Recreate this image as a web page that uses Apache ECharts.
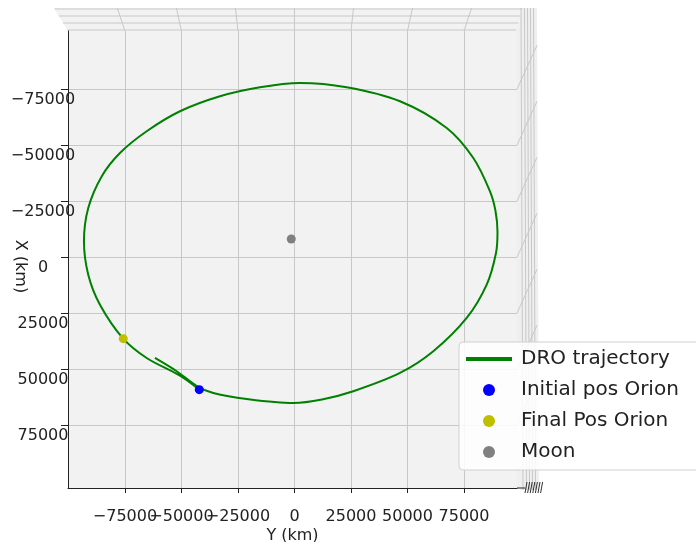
<!DOCTYPE html>
<html><head><meta charset="utf-8">
<script src="https://cdn.jsdelivr.net/npm/echarts@6/dist/echarts.min.js"></script>
<style>html,body{margin:0;padding:0;background:#fff}#c{width:696px;height:542px}</style>
</head><body><div id="c"></div>
<script>
// Tick labels (km)
const yTicksKm = [-75000, -50000, -25000, 0, 25000, 50000, 75000];
const xTicksKm = [-75000, -50000, -25000, 0, 25000, 50000, 75000];

// DRO trajectory: horizontal = Y (km), vertical = X (km)
const trajY = [-61730, -52120, -43000, -35930, -21150, -530, 12170, 26020, 46680, 61420, 76190, 85040, 89160, 89820, 88940, 86500, 79120, 67350, 46680, 23100, 2430, -15270, -32960, -50660, -65400, -77210, -85180, -91240, -93140, -91240, -86060, -75750, -65400, -50660, -42120];
const trajX = [44960, 50890, 57600, 60580, 63260, 65040, 63480, 59820, 51650, 41960, 27100, 12230, -1920, -11290, -20670, -29460, -44330, -57720, -69640, -75890, -77810, -75890, -71880, -65180, -56250, -46560, -36300, -22010, -7140, 7770, 21160, 36340, 44960, 52860, 59110];

const initialPos = [-42120, 59110];
const finalPos = [-75750, 36340];
const moonPos = [-1420, -8170];

const names = ['DRO trajectory', 'Initial pos Orion', 'Final Pos Orion', 'Moon'];

const FONT = 'DejaVu Sans';
const chart = echarts.init(document.getElementById('c'), null, {renderer: 'canvas'});

const trajData = trajY.map((y, i) => [y, trajX[i]]);
const fmt = v => String(v).replace('-', '\u2212');
// an empty leading label keeps ECharts' min-label overlap rule from hiding the overlapping labels
const EDGE = -100000;
const xLabelValues = [EDGE].concat(xTicksKm);

chart.setOption({
  animation: false,
  backgroundColor: '#ffffff',
  grid: {left: 68, right: 179, top: 31, bottom: 54, show: true, backgroundColor: '#f2f2f2', borderWidth: 0,
    outerBoundsMode: 'none', containLabel: false},
  xAxis: {
    type: 'value', min: -100200, max: 98450,
    name: 'Y (km)', nameLocation: 'middle', nameGap: 48, nameMoveOverlap: false,
    nameTextStyle: {fontFamily: FONT, fontSize: 16, color: '#222', verticalAlign: 'middle', align: 'center'},
    axisLine: {show: true, onZero: false, lineStyle: {color: '#222', width: 1}},
    axisTick: {show: true, length: 5, customValues: xTicksKm, lineStyle: {color: '#222'}},
    axisLabel: {customValues: xLabelValues, margin: 21, hideOverlap: false, showMinLabel: true, showMaxLabel: true,
      fontFamily: FONT, fontSize: 16, color: '#222', formatter: v => (v === EDGE ? '' : fmt(v))},
    splitLine: {show: true, lineStyle: {color: '#c8c8c8', width: 1}}
  },
  yAxis: {
    type: 'value', inverse: true, min: -101000, max: 103000,
    name: 'X (km)', nameLocation: 'middle', nameGap: 48, nameRotate: -90, nameMoveOverlap: false,
    nameTextStyle: {fontFamily: FONT, fontSize: 16, color: '#222', verticalAlign: 'middle', align: 'center', padding: [0, 0, 0, 14]},
    axisLine: {show: true, onZero: false, lineStyle: {color: '#222', width: 1}},
    axisTick: {show: true, length: 7, customValues: yTicksKm, lineStyle: {color: '#222'}},
    axisLabel: {customValues: yTicksKm, margin: 25, align: 'center', verticalAlign: 'top', padding: [3, 0, 0, 0],
      hideOverlap: false, showMinLabel: true, showMaxLabel: true,
      fontFamily: FONT, fontSize: 16, color: '#222', formatter: fmt},
    splitLine: {show: true, lineStyle: {color: '#c8c8c8', width: 1}}
  },
  legend: {
    orient: 'vertical', left: 459, top: 342,
    padding: [5, 260, 6, 7],
    itemWidth: 46, itemHeight: 12, itemGap: 7,
    backgroundColor: 'rgba(255,255,255,0.85)', borderColor: '#d0d0d0', borderWidth: 1, borderRadius: 4,
    textStyle: {fontFamily: FONT, fontSize: 20, color: '#222', lineHeight: 24, padding: [0, 0, 0, 4]},
    data: [
      {name: names[0], icon: 'path://M0,0 M0,12 M0,4 L46,4 L46,8 L0,8 Z'},
      {name: names[1], icon: 'circle'},
      {name: names[2], icon: 'circle'},
      {name: names[3], icon: 'circle'}
    ]
  },
  series: [
    {name: names[0], type: 'line', data: trajData, smooth: 0.33, symbol: 'none',
      lineStyle: {color: '#008000', width: 2}, itemStyle: {color: '#008000'}, z: 3},
    {name: names[1], type: 'scatter', data: [initialPos], symbolSize: 9, itemStyle: {color: '#0000ff', opacity: 1}, z: 4},
    {name: names[2], type: 'scatter', data: [finalPos], symbolSize: 9, itemStyle: {color: '#bfbf00', opacity: 1}, z: 4},
    {name: names[3], type: 'scatter', data: [moonPos], symbolSize: 9, itemStyle: {color: '#808080', opacity: 1}, z: 4}
  ]
});

// 3D pane decoration (walls of the matplotlib 3D box), positioned from the axes
const gx = v => chart.convertToPixel({xAxisIndex: 0}, v);
const gy = v => chart.convertToPixel({yAxisIndex: 0}, v);
const L = gx(-100200), R = gx(98450), T = gy(-101000), B = gy(103000);
const cx = gx(0);
const lineCol = '#c8c8c8';
const els = [];
els.push({type: 'polygon', shape: {points: [[L - 14, T - 23], [R + 6, T - 23], [R, T], [L, T]]},
  style: {fill: '#f2f2f2'}, z: -1, silent: true});
els.push({type: 'polygon', shape: {points: [[R, T], [R + 6, T - 23], [R + 20, T - 23], [R + 22, B + 2], [R + 4, B + 2], [R, B]]},
  style: {fill: '#efefef'}, z: -1, silent: true});
[1, 8, 15, 22].forEach(d => {
  const y = T - 23 + d;
  const xl = L - 14 + d * 14 / 23;
  els.push({type: 'line', shape: {x1: xl, y1: y, x2: R + 6 - d * 0.3, y2: y}, style: {stroke: lineCol, lineWidth: 1}, silent: true});
});
xTicksKm.forEach(v => {
  const x = gx(v);
  els.push({type: 'line', shape: {x1: x, y1: T, x2: x + 0.045 * (x - cx), y2: T - 23}, style: {stroke: lineCol, lineWidth: 1}, silent: true});
});
[4, 7.5, 10.5, 13.5, 16.5].forEach(d => {
  els.push({type: 'line', shape: {x1: R + d, y1: T - 23, x2: R + d + 2, y2: B + 2}, style: {stroke: lineCol, lineWidth: 1}, silent: true});
});
yTicksKm.forEach(v => {
  const y = gy(v);
  els.push({type: 'line', shape: {x1: R, y1: y, x2: R + 20, y2: y - 44}, style: {stroke: lineCol, lineWidth: 1}, silent: true});
});
for (let i = 0; i < 7; i++) {
  els.push({type: 'line', shape: {x1: R + 8 + i * 2.6, y1: B + 5, x2: R + 10 + i * 2.6, y2: B - 6}, style: {stroke: '#333', lineWidth: 1}, silent: true});
}
els.push({type: 'line', shape: {x1: R, y1: B, x2: R + 8, y2: B}, style: {stroke: '#222', lineWidth: 1}, silent: true});
chart.setOption({graphic: {elements: els}});
</script>
</body></html>
